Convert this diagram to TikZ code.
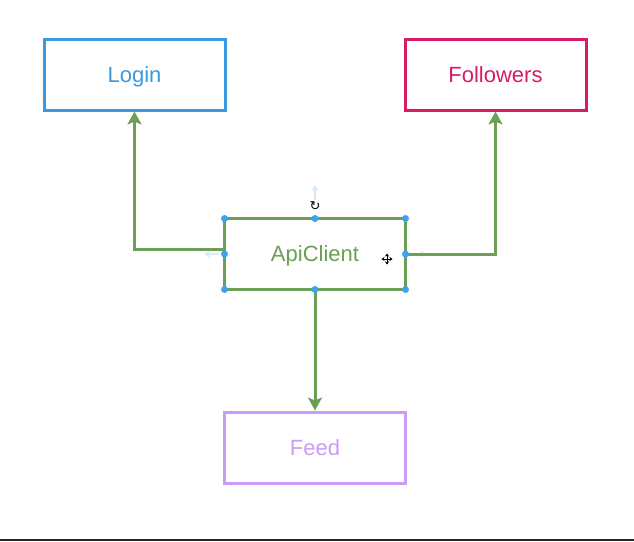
\documentclass[tikz,border=0pt]{standalone}
\usepackage{fontspec}
\setmainfont{Liberation Sans}
\newfontfamily\symfont{DejaVu Sans}
\usetikzlibrary{arrows.meta}
\definecolor{cblue}{HTML}{3B99E0}
\definecolor{cpink}{HTML}{D81B67}
\definecolor{cgreen}{HTML}{6B9F55}
\definecolor{cpurple}{HTML}{C99BF8}
\definecolor{chandle}{HTML}{3DA2F2}
\definecolor{cfaint}{HTML}{D4E9FB}
\tikzset{
  box/.style={draw, line width=3pt, minimum width=181pt, minimum height=71pt,
    inner sep=0pt, outer sep=0pt, text height=15.8pt, text depth=0pt,
    font=\fontsize{22}{25}\selectfont},
  conn/.style={draw=cgreen, line width=3pt, -{Stealth[length=13pt,width=14pt,inset=3pt]}},
  handle/.style={circle, fill=chandle, inner sep=0pt, minimum size=7pt},
  faint/.style={draw=cfaint, line width=2.5pt, -{Stealth[length=6pt,width=7pt]}}
}
\begin{document}
\begin{tikzpicture}[x=1pt,y=-1pt]
\useasboundingbox (0,0) rectangle (634,541);
\node[box, draw=cblue, text=cblue] (login) at (134.5,74.5) {Login};
\node[box, draw=cpink, text=cpink] (followers) at (495.5,74.5) {Followers};
\node[box, draw=cgreen, text=cgreen] (api) at (315,254) {ApiClient};
\node[box, draw=cpurple, text=cpurple] (feed) at (315,447.5) {Feed};
% faint selection arrows
\coordinate (ftop0) at (315,200);
\coordinate (ftop1) at (315,185);
\coordinate (fleft0) at (219,254);
\coordinate (fleft1) at (204,254);
\coordinate (fright0) at (411,254);
\coordinate (fright1) at (426,254);
\draw[faint] (ftop0) -- (ftop1);
\draw[faint] (fleft0) -- (fleft1);
\draw[faint] (fright0) -- (fright1);
% connectors
\draw[conn] ([yshift=5pt]api.west) -| ([yshift=-1.5pt]login.south);
\draw[conn] (api.east) -| ([yshift=-1.5pt]followers.south);
\draw[conn] (api.south) -- ([yshift=1.5pt]feed.north);
% selection handles
\foreach \a in {north west, north, north east, west, east, south west, south, south east}
  \node[handle] at (api.\a) {};
% rotate icon
\node[font=\symfont\fontsize{13}{14}\selectfont, inner sep=0pt] (rot) at (315,206) {↻};
% move cursor
\coordinate (mv) at (387,259);
\draw[line width=1pt, {Stealth[length=3pt,width=4pt]}-{Stealth[length=3pt,width=4pt]}] ([xshift=-5.5pt]mv) -- ([xshift=5.5pt]mv);
\draw[line width=1pt, {Stealth[length=3pt,width=4pt]}-{Stealth[length=3pt,width=4pt]}] ([yshift=-5.5pt]mv) -- ([yshift=5.5pt]mv);
% bottom rule
\coordinate (bl) at (0,540);
\coordinate (br) at (634,540);
\draw[line width=2pt, color=black!85] (bl) -- (br);
\end{tikzpicture}
\end{document}
